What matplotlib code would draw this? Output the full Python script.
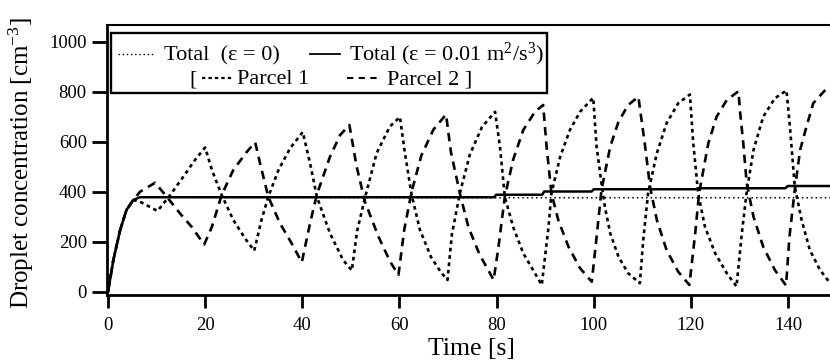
"""
Droplet concentration of two parcels and the total, with/without turbulence
"""

import matplotlib
matplotlib.use("Agg")
import matplotlib.pyplot as plt
from matplotlib.lines import Line2D
from matplotlib.patches import Rectangle

# ---- data ----
# total, epsilon = 0.01 m2/s3 (solid)
total_t = [0, 1.1, 2.5, 3.8, 5.2, 6.6, 79.5, 79.9, 89.4, 89.8, 99.6, 100.0,
           121.0, 121.5, 139.5, 139.9, 151]
total_y = [0, 128, 248, 328, 368, 379, 379, 389, 389, 402, 402, 411,
           411, 415, 415, 424, 424]

# total, epsilon = 0 (fine dotted)
total0_t = [0, 1.1, 2.5, 3.8, 5.2, 6.6, 80, 151]
total0_y = [0, 128, 248, 328, 368, 379, 377, 377]

# parcel 1 (dotted)
p1_t = [0, 1.1, 2.5, 3.8, 5.2, 6.6, 10.2,
        12.8, 15.5, 17.9, 20.0,
        21.4, 23.4, 25.8, 28.2, 30.1,
        31.6, 33.0, 35.1, 37.5, 40.1,
        41.6, 43.0, 45.7, 48.4, 50.2,
        51.3, 52.9, 55.3, 58.0, 60.1,
        61.1, 62.5, 64.2, 66.5, 68.5, 69.9,
        70.8, 72.5, 74.5, 77.0, 79.7,
        80.7, 81.7, 83.4, 85.5, 87.9, 89.3,
        90.7, 91.3, 93.1, 95.1, 97.2, 99.9,
        100.6, 101.6, 102.3, 103.4, 105.1, 107.1, 109.5,
        110.2, 111.2, 113.0, 115.0, 117.4, 119.8,
        120.5, 121.5, 122.9, 125.0, 127.4, 129.4,
        130.5, 131.5, 132.9, 134.9, 137.3, 139.7,
        140.4, 141.4, 142.8, 144.5, 146.6, 148.7, 150.5]
p1_y = [0, 128, 248, 328, 368, 361, 324,
        388, 461, 528, 578,
        488, 388, 288, 215, 165,
        288, 381, 488, 575, 640,
        515, 381, 235, 128, 86,
        245, 376, 555, 661, 700,
        560, 390, 250, 140, 80, 48,
        230, 400, 550, 660, 721,
        581, 381, 261, 155, 75, 28,
        261, 395, 541, 648, 721, 777,
        581, 435, 341, 235, 141, 75, 35,
        208, 395, 555, 675, 755, 790,
        595, 395, 261, 155, 75, 22,
        235, 400, 568, 701, 775, 806,
        661, 421, 288, 168, 88, 35, 22]

# parcel 2 (dashed)
p2_t = [0, 1.1, 2.5, 3.8, 5.2, 6.6, 9.7,
        12.1, 14.8, 17.2, 19.8,
        21.4, 23.4, 25.8, 28.6, 30.3,
        31.3, 33.0, 35.4, 37.8, 39.9,
        41.6, 43.0, 45.7, 47.8, 49.7,
        51.2, 52.9, 55.7, 58.1, 59.8,
        61.0, 62.5, 64.5, 67.0, 69.6,
        70.6, 72.5, 74.2, 76.5, 78.5, 79.4,
        80.4, 81.7, 83.4, 85.5, 87.9, 89.6,
        90.3, 91.3, 92.7, 94.8, 97.2, 99.6,
        100.6, 101.6, 103.4, 105.1, 107.1, 109.2,
        110.6, 111.6, 113.0, 115.0, 117.4, 119.7,
        120.9, 121.7, 123.6, 125.3, 127.4, 129.8,
        130.1, 130.8, 131.5, 132.9, 134.9, 137.3, 139.6,
        140.3, 141.4, 142.5, 143.8, 145.2, 148.0, 150.5]
p2_y = [0, 128, 248, 328, 368, 401, 437,
        381, 315, 261, 190,
        261, 388, 488, 561, 599,
        515, 381, 275, 195, 119,
        275, 390, 541, 628, 668,
        501, 361, 221, 121, 68,
        250, 400, 545, 650, 710,
        560, 390, 260, 150, 80, 48,
        181, 381, 528, 648, 721, 748,
        581, 395, 288, 181, 95, 41,
        221, 408, 581, 681, 748, 781,
        581, 421, 288, 168, 81, 28,
        235, 395, 595, 701, 768, 803,
        728, 595, 435, 301, 181, 88, 26,
        220, 410, 568, 661, 755, 815, 835]

y_ticks = [0, 200, 400, 600, 800, 1000]
x_ticks = [0, 20, 40, 60, 80, 100, 120, 140]

# axes frame in pixels of the 830x361 picture
AX_L, AX_R, AX_T, AX_B = 107, 840, 25, 295


def ax_x(px):
    return (px - AX_L) / (AX_R - AX_L)


def ax_y(py):
    return (AX_B - py) / (AX_B - AX_T)


def setup_plot():
    plt.rcParams["font.family"] = ["Liberation Serif", "DejaVu Serif"]
    plt.rcParams["mathtext.fontset"] = "custom"
    plt.rcParams["mathtext.rm"] = "Liberation Serif"
    plt.rcParams["mathtext.it"] = "Liberation Serif:italic"

    fig = plt.figure(figsize=(8.3, 3.61), dpi=100)
    ax = fig.add_axes([AX_L / 830, (361 - AX_B) / 361,
                       (AX_R - AX_L) / 830, (AX_B - AX_T) / 361])
    return fig, ax


def draw_legend(ax):
    """hand made legend box, two rows"""
    ax.add_patch(Rectangle((ax_x(111), ax_y(93)), ax_x(547) - ax_x(111),
                           ax_y(33) - ax_y(93), transform=ax.transAxes,
                           facecolor="white", edgecolor="black",
                           linewidth=1.7, zorder=5))
    fs = 16
    tr = ax.transAxes
    r1, r2 = ax_y(54), ax_y(78)
    b1, b2 = ax_y(60), ax_y(84)

    ax.add_line(Line2D([ax_x(118), ax_x(153)], [r1, r1], transform=tr,
                       color="black", lw=1.0, linestyle=(0, (1, 2)), zorder=6))
    ax.text(ax_x(164), b1, "Total  (ε = 0)", transform=tr, fontsize=fs,
            va="baseline", zorder=6)
    ax.add_line(Line2D([ax_x(310), ax_x(340)], [r1, r1], transform=tr,
                       color="black", lw=1.3, zorder=6))
    ax.text(ax_x(349), b1, r"Total (ε = 0.01 m$^{2}$/s$^{3}$)", transform=tr,
            fontsize=fs, va="baseline", zorder=6)

    ax.text(ax_x(189), b2, "[", transform=tr, fontsize=fs, va="baseline", zorder=6)
    ax.add_line(Line2D([ax_x(202), ax_x(232)], [r2, r2], transform=tr,
                       color="black", lw=1.6, linestyle=(0, (1.5, 1.4)), zorder=6))
    ax.text(ax_x(237), b2, "Parcel 1", transform=tr, fontsize=fs,
            va="baseline", zorder=6)
    ax.add_line(Line2D([ax_x(347), ax_x(380)], [r2, r2], transform=tr,
                       color="black", lw=1.5, linestyle=(0, (3.0, 2.6)), zorder=6))
    ax.text(ax_x(387), b2, "Parcel 2 ]", transform=tr, fontsize=fs,
            va="baseline", zorder=6)


def main():
    fig, ax = setup_plot()

    ax.plot(p1_t, p1_y, color="black", lw=1.9, linestyle=(0, (1.4, 1.4)))
    ax.plot(p2_t, p2_y, color="black", lw=1.9, linestyle=(0, (3.2, 2.3)))
    ax.plot(total0_t, total0_y, color="black", lw=1.1, linestyle=(0, (1, 2)))
    ax.plot(total_t, total_y, color="black", lw=1.8)

    ax.set_xlim((AX_L - 108) / 4.857, (AX_R - 108) / 4.857)
    ax.set_ylim(-12, 1068)
    ax.set_xticks(x_ticks)
    ax.set_yticks(y_ticks)
    ax.tick_params(axis="y", direction="out", length=11, width=2.0,
                   labelsize=13.5, pad=3.5)
    ax.tick_params(axis="x", direction="out", length=9, width=2.0,
                   labelsize=13.5, pad=7)

    for side in ["left", "bottom"]:
        ax.spines[side].set_linewidth(2.0)
    ax.spines["top"].set_linewidth(1.5)
    ax.spines["right"].set_visible(False)

    ax.set_xlabel("Time [s]", fontsize=18.5)
    ax.xaxis.set_label_coords(ax_x(471), ax_y(338))
    ax.set_ylabel(r"Droplet concentration [cm$^{-3}$]", fontsize=18)
    ax.yaxis.set_label_coords(ax_x(36), 0.49)

    draw_legend(ax)

    fig.savefig("out.png", dpi=100)


if __name__ == "__main__":
    main()
